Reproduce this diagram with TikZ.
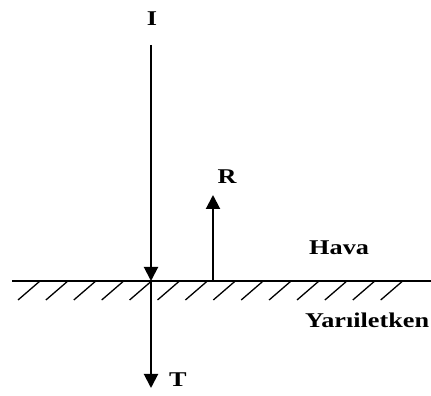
\documentclass[tikz,border=0pt]{standalone}
\usepackage{fontspec}
\usetikzlibrary{arrows.meta}
\newfontfamily\lblfont[FakeStretch=1.25]{Liberation Serif}
\tikzset{ray/.style={-{Triangle[length=14pt,width=14pt]},line width=2pt}, surf/.style={line width=1.8pt}, hatchline/.style={line width=1.3pt}, lbl/.style={font=\lblfont\bfseries\fontsize{21}{25}\selectfont,inner sep=0pt}}

\begin{document}
\begin{tikzpicture}[x=1pt,y=1pt]
\useasboundingbox (0,0) rectangle (431,396);
\coordinate (left) at (12,115);\coordinate (right) at (431,115);\coordinate (hit) at (151,115);\coordinate (src) at (151,351);\coordinate (tend) at (151,8);\coordinate (rfoot) at (213,115);\coordinate (rend) at (213,201);
\draw[surf] (left)--(right);
\foreach \k in {0,...,13}{\draw[hatchline] ({40+27.9*\k},115)--++(-22,-19);}
\draw[ray] (src)--(hit);\draw[ray] (hit)--(tend);\draw[ray] (rfoot)--(rend);
\node[lbl,anchor=base] (ilbl) at (152,370) {I};\node[lbl,anchor=base] (rlbl) at (227,212) {R};\node[lbl,anchor=base] (tlbl) at (178,9) {T};
\node[lbl,anchor=base west] (hava) at (309,141) {Hava};\node[lbl,anchor=base west] (yari) at (305,68) {Yarıiletken};
\end{tikzpicture}
\end{document}
